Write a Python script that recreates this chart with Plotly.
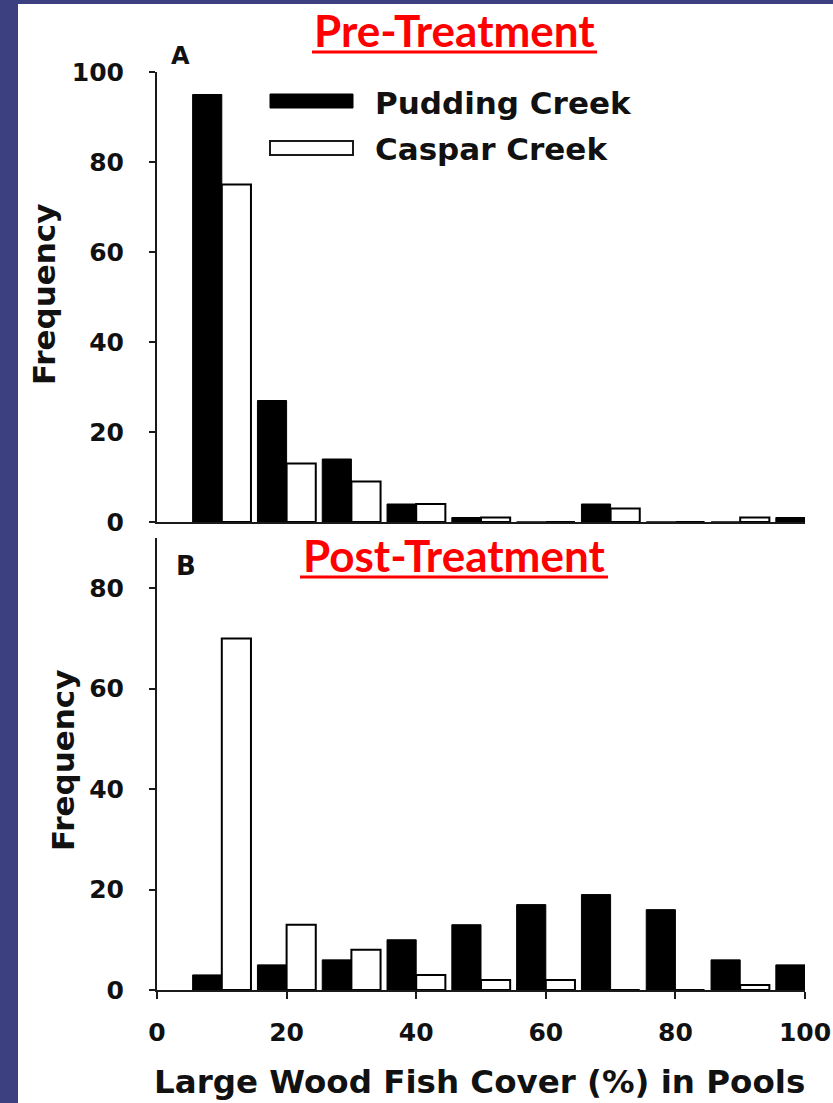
import plotly.graph_objects as go

# ---------------- data ----------------
bins = [10, 20, 30, 40, 50, 60, 70, 80, 90, 100]
pre_pudding = [95, 27, 14, 4, 1, 0, 4, 0, 0, 1]
pre_caspar = [75, 13, 9, 4, 1, 0, 3, 0, 1, 0]
post_pudding = [3, 5, 6, 10, 13, 17, 19, 16, 6, 5]
post_caspar = [70, 13, 8, 3, 2, 2, 0, 0, 1, 0]
x_ticks = [0, 20, 40, 60, 80, 100]
y_ticks_top = [0, 20, 40, 60, 80, 100]
y_ticks_bottom = [0, 20, 40, 60, 80]

W, H = 833, 1103
L, R, T, B = 157, 28, 72, 113
PW, PH = W - L - R, H - T - B


def px(x):
    return (x - L) / PW


def py(y):
    return (H - B - y) / PH


AX_FONT = "DejaVu Sans"
INK = "#111111"
LINE = "#1a1a1a"

fig = go.Figure()

fig.add_trace(go.Bar(x=bins, y=pre_pudding, name="Pudding Creek",
                     marker=dict(color="black", line=dict(color="black", width=1)),
                     xaxis="x2", yaxis="y2", showlegend=False))
fig.add_trace(go.Bar(x=bins, y=pre_caspar, name="Caspar Creek",
                     marker=dict(color="white", line=dict(color="black", width=2)),
                     xaxis="x2", yaxis="y2", showlegend=False))
fig.add_trace(go.Bar(x=bins, y=post_pudding, name="Pudding Creek",
                     marker=dict(color="black", line=dict(color="black", width=1)),
                     xaxis="x", yaxis="y", showlegend=False))
fig.add_trace(go.Bar(x=bins, y=post_caspar, name="Caspar Creek",
                     marker=dict(color="white", line=dict(color="black", width=2)),
                     xaxis="x", yaxis="y", showlegend=False))

top_lo = py(522)
bot_hi = py(538)

axis_common = dict(showline=True, linecolor=LINE, linewidth=2, showgrid=False,
                   zeroline=False, automargin=False,
                   tickfont=dict(family=AX_FONT, size=25, color=INK, weight="bold"))

BLUE = "#3D4080"

fig.update_layout(
    width=W, height=H,
    margin=dict(l=L, r=R, t=T, b=B, autoexpand=False),
    paper_bgcolor=BLUE, plot_bgcolor="white",
    barmode="group", bargap=0.1, bargroupgap=0,
    showlegend=False,
    xaxis=dict(domain=[0, 1], range=[0, 100], anchor="y", tickvals=x_ticks,
               ticks="outside", ticklen=7, tickwidth=2, tickcolor=LINE,
               ticklabelstandoff=12, **axis_common),
    yaxis=dict(domain=[0, bot_hi], range=[0, 90], anchor="x", tickvals=y_ticks_bottom,
               ticks="outside", ticklen=6, tickwidth=2, tickcolor=LINE,
               ticklabelstandoff=20, **axis_common),
    xaxis2=dict(domain=[0, 1], range=[0, 100], anchor="y2", showticklabels=False,
                ticks="", **axis_common),
    yaxis2=dict(domain=[top_lo, 1], range=[0, 100], anchor="x2", tickvals=y_ticks_top,
                ticks="outside", ticklen=6, tickwidth=2, tickcolor=LINE,
                ticklabelstandoff=20, **axis_common),
)

shapes = []
# white figure area inside the blue frame
shapes.append(dict(type="rect", xref="paper", yref="paper", x0=px(18), x1=px(W + 2),
                   y0=py(H + 2), y1=py(4), fillcolor="white", line=dict(width=0),
                   layer="below"))
# short extension of the top panel's baseline to the left of its y axis
shapes.append(dict(type="line", xref="paper", yref="paper", x0=px(150), x1=px(157),
                   y0=py(522), y1=py(522), line=dict(color=LINE, width=2)))
# title underlines
shapes.append(dict(type="line", xref="paper", yref="paper", x0=px(312), x1=px(597),
                   y0=py(52), y1=py(52), line=dict(color="red", width=3)))
shapes.append(dict(type="line", xref="paper", yref="paper", x0=px(300), x1=px(608),
                   y0=py(577), y1=py(577), line=dict(color="red", width=3)))
# legend swatches
shapes.append(dict(type="rect", xref="paper", yref="paper", x0=px(270), x1=px(353),
                   y0=py(108), y1=py(94), fillcolor="black", line=dict(color="black", width=1)))
shapes.append(dict(type="rect", xref="paper", yref="paper", x0=px(270), x1=px(353),
                   y0=py(155), y1=py(141), fillcolor="white", line=dict(color=LINE, width=2)))
fig.update_layout(shapes=shapes)

ann = []


def text(x, y, s, size, family=AX_FONT, color=INK, xanchor="center", angle=0):
    ann.append(dict(x=px(x), y=py(y), xref="paper", yref="paper", text=s, showarrow=False,
                    xanchor=xanchor, yanchor="middle", textangle=angle,
                    font=dict(family=family, size=size, color=color, weight="bold")))


text(454.5, 30, "Pre-Treatment", 44, family="Lato", color="red")
text(454, 555, "Post-Treatment", 44, family="Lato", color="red")
text(180, 56, "A", 24)
text(186, 566, "B", 26)
text(373, 103, "Pudding Creek", 31, xanchor="left")
text(373, 149, "Caspar Creek", 31, xanchor="left")
text(44, 295, "Frequency", 31, angle=-90)
text(63, 761, "Frequency", 31, angle=-90)
text(479, 1082, "Large Wood Fish Cover (%) in Pools", 32.5)
fig.update_layout(annotations=ann)

fig.write_html("out.html", config={"displayModeBar": False},
               post_script="document.body.style.margin='0px';"
                           "document.body.style.overflow='hidden';")
